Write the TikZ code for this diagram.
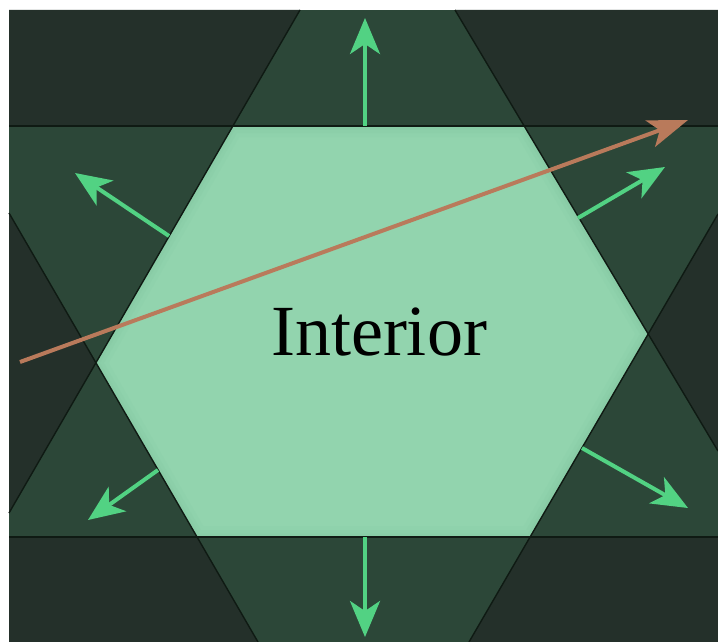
\documentclass[tikz,border=0pt]{standalone}
\usepackage{fontspec}
\setmainfont{Liberation Serif}
\usetikzlibrary{arrows.meta}
\definecolor{inner}{HTML}{92D4AE}
\definecolor{innerdk}{HTML}{78BE98}
\definecolor{midreg}{HTML}{2C4738}
\definecolor{darkreg}{HTML}{24302A}
\definecolor{edgeline}{HTML}{0F1A13}
\definecolor{normalgreen}{HTML}{52D283}
\definecolor{raybrown}{HTML}{B97A5B}
\tikzset{
  normalarrow/.style={draw=normalgreen, line width=4pt,
    -{Stealth[length=36pt,width=30pt,inset=10pt]}},
  rayarrow/.style={draw=raybrown, line width=4pt,
    -{Stealth[length=40pt,width=28pt,inset=10pt]}},
  boundary/.style={draw=edgeline, line width=1.4pt},
  labeltext/.style={font=\fontsize{72}{80}\selectfont, text=black, inner sep=0pt, anchor=base},
}
\begin{document}
\begin{tikzpicture}[x=1pt,y=-1pt]
  \useasboundingbox (0,0) rectangle (718,642);
  \fill[white] (0,0) rectangle (718,642);
  % frame corners
  \coordinate (f1) at (9,10);
  \coordinate (f3) at (718,642);
  % hexagon vertices
  \coordinate (p1) at (233,126);
  \coordinate (p2) at (524,126);
  \coordinate (p3) at (648,334);
  \coordinate (p4) at (530,537);
  \coordinate (p5) at (197,537);
  \coordinate (p6) at (96,363);
  % half-plane exterior (one violation)
  \fill[midreg] (f1) rectangle (f3);
  % two violations
  \fill[darkreg] (9,10) -- (300,10) -- (p1) -- (9,126) -- cycle;
  \fill[darkreg] (455,10) -- (718,10) -- (718,126) -- (p2) -- cycle;
  \fill[darkreg] (p3) -- (718,214) -- (718,451) -- cycle;
  \fill[darkreg] (p4) -- (718,537) -- (718,642) -- (469,642) -- cycle;
  \fill[darkreg] (9,537) -- (p5) -- (258,642) -- (9,642) -- cycle;
  \fill[darkreg] (p6) -- (9,213) -- (9,513) -- cycle;
  % interior
  \fill[inner] (p1) -- (p2) -- (p3) -- (p4) -- (p5) -- (p6) -- cycle;
  \begin{scope}
    \clip (p1) -- (p2) -- (p3) -- (p4) -- (p5) -- (p6) -- cycle;
    \foreach \w/\o in {22/0.08,14/0.10,7/0.14} {
      \draw[innerdk, line width=\w pt, opacity=\o] (p1) -- (p2) -- (p3) -- (p4) -- (p5) -- (p6) -- cycle;
    }
  \end{scope}
  % boundary lines
  \draw[boundary] (9,126) -- (718,126);
  \draw[boundary] (9,537) -- (718,537);
  \draw[boundary] (300,10) -- (9,513);
  \draw[boundary] (9,213) -- (258,642);
  \draw[boundary] (455,10) -- (718,451);
  \draw[boundary] (718,214) -- (469,642);
  % label
  \node[labeltext] (lbl) at (379,355) {Interior};
  % outward normals
  \coordinate (n1a) at (365,126); \coordinate (n1b) at (365,18);
  \coordinate (n2a) at (169,236); \coordinate (n2b) at (75,173);
  \coordinate (n3a) at (578,218); \coordinate (n3b) at (665,167);
  \coordinate (n4a) at (158,470); \coordinate (n4b) at (88,520);
  \coordinate (n5a) at (582,448); \coordinate (n5b) at (688,508);
  \coordinate (n6a) at (365,537); \coordinate (n6b) at (365,637);
  \foreach \i in {1,...,6} { \draw[normalarrow] (n\i a) -- (n\i b); }
  % ray
  \coordinate (ra) at (20,362);
  \coordinate (rb) at (688,120);
  \draw[rayarrow] (ra) -- (rb);
\end{tikzpicture}
\end{document}
